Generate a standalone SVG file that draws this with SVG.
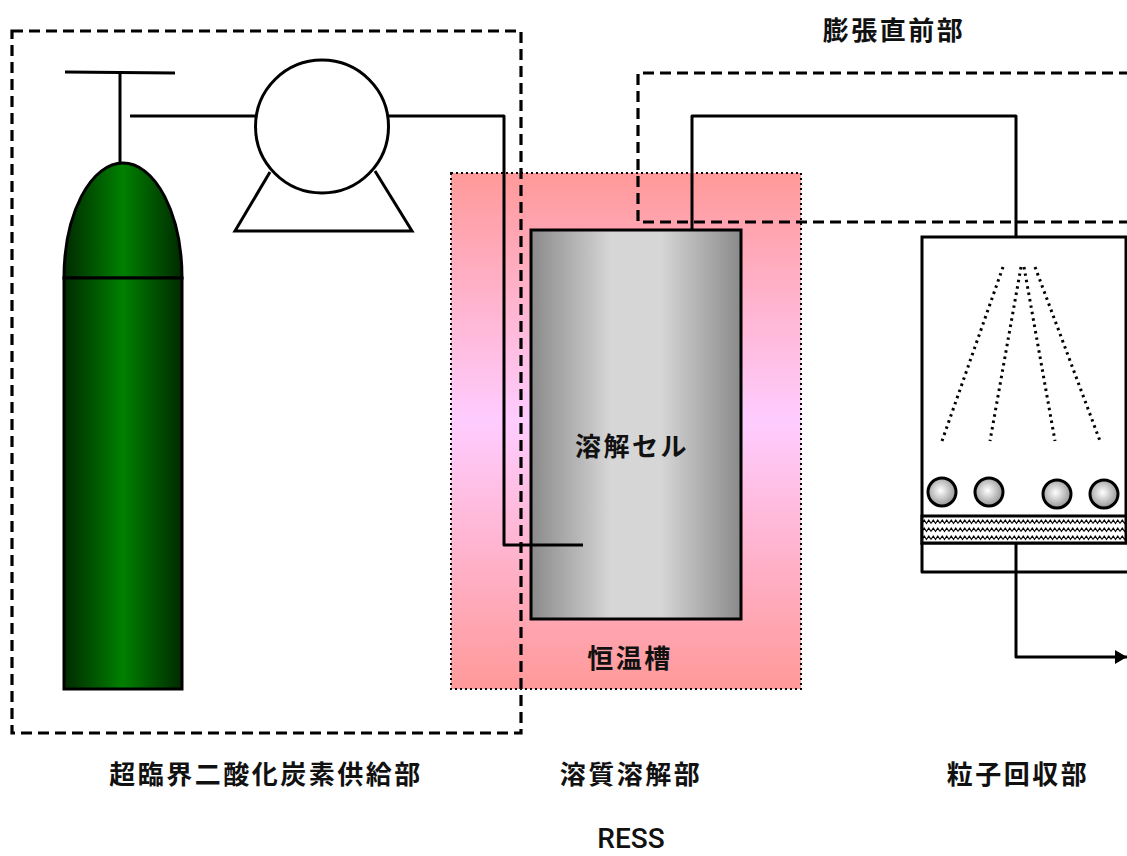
<svg xmlns="http://www.w3.org/2000/svg" width="1127" height="856" viewBox="0 0 1127 856">
  <defs>
    <linearGradient id="gasGreen" x1="0" y1="0" x2="1" y2="0">
      <stop offset="0" stop-color="#002a00"/>
      <stop offset="0.5" stop-color="#008000"/>
      <stop offset="1" stop-color="#002a00"/>
    </linearGradient>
    <linearGradient id="steel" x1="0" y1="0" x2="1" y2="0">
      <stop offset="0" stop-color="#8a8a8a"/>
      <stop offset="0.38" stop-color="#d6d6d6"/>
      <stop offset="0.62" stop-color="#d6d6d6"/>
      <stop offset="1" stop-color="#8a8a8a"/>
    </linearGradient>
    <linearGradient id="warmBath" x1="0" y1="0" x2="0" y2="1">
      <stop offset="0" stop-color="#ff9999"/>
      <stop offset="0.48" stop-color="#ffccff"/>
      <stop offset="1" stop-color="#ff9999"/>
    </linearGradient>
    <radialGradient id="bead" cx="0.45" cy="0.45" r="0.6">
      <stop offset="0" stop-color="#ffffff"/>
      <stop offset="1" stop-color="#8c8c8c"/>
    </radialGradient>
    <pattern id="filterWeave" x="922" y="518" width="9" height="8" patternUnits="userSpaceOnUse">
      <rect width="9" height="8" fill="#ffffff"/>
      <path d="M0,5.5 L2.25,2 L4.5,5.5 L6.75,2 L9,5.5" fill="none" stroke="#000" stroke-width="1.2"/>
    </pattern>
    <marker id="arrowHead" markerWidth="12" markerHeight="14" refX="12" refY="7" orient="auto" markerUnits="userSpaceOnUse">
      <path d="M0,0 L12,7 L0,14 Z" fill="#000"/>
    </marker>
    <style>
      .pipe { fill: none; stroke: #000; stroke-width: 3; stroke-linejoin: round; }
      .outline { stroke: #000; stroke-width: 3; }
      .zone { fill: none; stroke: #000; stroke-width: 3.2; stroke-dasharray: 11 6; }
      .spray { fill: none; stroke: #000; stroke-width: 3; stroke-dasharray: 2.5 4; }
      .label { font-family: "Noto Sans CJK JP", "Noto Sans", sans-serif; font-weight: bold; font-size: 26px; fill: #111; text-anchor: middle; letter-spacing: 2.5px; }
      .caption { font-family: Roboto, "Liberation Sans", sans-serif; font-weight: 500; font-size: 28px; fill: #111; text-anchor: middle; }
    </style>
  </defs>

  <rect width="1127" height="856" fill="#ffffff"/>

  <!-- thermostatic bath -->
  <g id="bath">
    <rect x="451" y="173" width="350" height="516" fill="url(#warmBath)" stroke="#000" stroke-width="2" stroke-dasharray="2 3"/>
    <text class="label" x="630" y="668">恒温槽</text>
  </g>

  <!-- dissolution cell -->
  <g id="cell">
    <rect x="531" y="230" width="210" height="389" fill="url(#steel)" class="outline"/>
    <text class="label" x="632" y="456">溶解セル</text>
  </g>

  <!-- CO2 cylinder -->
  <g id="cylinder">
    <path d="M64,278 A59,115 0 0 1 182,278 Z" fill="url(#gasGreen)" class="outline"/>
    <rect x="64" y="278" width="118" height="411" fill="url(#gasGreen)" class="outline"/>
  </g>

  <!-- cylinder valve -->
  <g id="valve">
    <line x1="65" y1="72" x2="175" y2="73" class="pipe"/>
    <line x1="120" y1="72" x2="120" y2="163" class="pipe"/>
  </g>

  <!-- pump -->
  <g id="pump">
    <path d="M270,172 L235,231 L412,231 L375,171" fill="none" class="outline"/>
    <circle cx="322" cy="126.5" r="66.5" fill="#ffffff" class="outline"/>
  </g>

  <!-- particle collector -->
  <g id="collector">
    <rect x="922" y="237" width="204" height="306" fill="#ffffff" class="outline"/>
    <rect x="922" y="516" width="204" height="27" fill="url(#filterWeave)" class="outline"/>
    <line x1="1003" y1="267" x2="942" y2="441" class="spray"/>
    <line x1="1021" y1="267" x2="990" y2="441" class="spray"/>
    <line x1="1024" y1="267" x2="1055" y2="441" class="spray"/>
    <line x1="1035" y1="267" x2="1100" y2="441" class="spray"/>
    <circle cx="942" cy="492" r="14" fill="url(#bead)" class="outline"/>
    <circle cx="989" cy="492" r="14" fill="url(#bead)" class="outline"/>
    <circle cx="1057" cy="494" r="14" fill="url(#bead)" class="outline"/>
    <circle cx="1104" cy="494" r="14" fill="url(#bead)" class="outline"/>
  </g>

  <!-- piping -->
  <g id="connectors">
    <path d="M130,116 H256" class="pipe"/>
    <path d="M389,116 H504 V545 H583" class="pipe"/>
    <path d="M692,230 V116 H1016 V237" class="pipe"/>
    <path d="M922,543 V572 H1127" class="pipe"/>
    <path d="M1016,543 V657 H1127" class="pipe" marker-end="url(#arrowHead)"/>
  </g>

  <!-- section boundaries -->
  <g id="zones">
    <rect x="12" y="31" width="509" height="702" class="zone"/>
    <path d="M1130,73 H638 V222 H1130" class="zone"/>
  </g>

  <!-- section titles -->
  <g id="titles">
    <text class="label" x="894" y="40">膨張直前部</text>
    <text class="label" x="266" y="784">超臨界二酸化炭素供給部</text>
    <text class="label" x="631" y="784">溶質溶解部</text>
    <text class="label" x="1018" y="784">粒子回収部</text>
    <text class="caption" x="631" y="848">RESS</text>
  </g>
</svg>
